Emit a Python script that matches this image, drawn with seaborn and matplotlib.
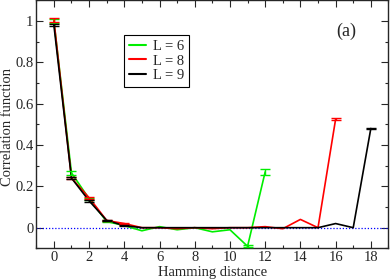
import numpy as np
import pandas as pd
import matplotlib
matplotlib.use('Agg')
import matplotlib.pyplot as plt
import seaborn as sns
from matplotlib.ticker import MultipleLocator

# data (error 0 = no visible bar)
d6 = list(range(0, 13))
c6 = [1.0, 0.265, 0.14, 0.03, 0.01, -0.015, 0.005, -0.01, 0.0, -0.02, -0.01, -0.09, 0.27]
e6 = [0.01, 0.01, 0.006, 0.003, 0.0, 0.0, 0.0, 0.0, 0.0, 0.0, 0.0, 0.004, 0.013]

d8 = list(range(0, 17))
c8 = [1.005, 0.24, 0.145, 0.035, 0.02, 0.0, 0.0, -0.005, 0.0, -0.005, 0.0, 0.0, 0.005, -0.005, 0.04, 0.0, 0.525]
e8 = [0.01, 0.006, 0.005, 0.003, 0.003, 0.0, 0.0, 0.0, 0.0, 0.0, 0.0, 0.0, 0.0, 0.0, 0.0, 0.0, 0.004]

d9 = list(range(0, 19))
c9 = [0.98, 0.24, 0.13, 0.035, 0.01, 0.0, 0.0, 0.0, 0.0, 0.0, 0.0, 0.0, 0.0, 0.0, 0.0, 0.0, 0.02, 0.0, 0.48]
e9 = [0.006, 0.005, 0.005, 0.003, 0.002, 0.0, 0.0, 0.0, 0.0, 0.0, 0.0, 0.0, 0.0, 0.0, 0.0, 0.0, 0.0, 0.0, 0.004]

sns.set_style('ticks')
plt.rcParams['font.family'] = ['Liberation Serif', 'DejaVu Serif']

df = pd.concat([
    pd.DataFrame({'d': d6, 'c': c6, 'e': e6, 'L': 'L = 6'}),
    pd.DataFrame({'d': d8, 'c': c8, 'e': e8, 'L': 'L = 8'}),
    pd.DataFrame({'d': d9, 'c': c9, 'e': e9, 'L': 'L = 9'}),
])
colors = {'L = 6': '#00ee00', 'L = 8': '#ff0000', 'L = 9': '#000000'}

fig = plt.figure(figsize=(3.9, 2.8), dpi=100)
ax = fig.add_axes([0.093, 0.113, 0.903, 0.886])

ax.axhline(0, color='#0000ff', lw=0.9, ls=(0, (1, 1.5)), zorder=1)

sns.lineplot(data=df, x='d', y='c', hue='L', palette=colors, lw=1.2, ax=ax,
             estimator=None, sort=False, zorder=3)
for lab, g in df[df['e'] > 0].groupby('L'):
    ax.errorbar(g['d'], g['c'], yerr=g['e'], fmt='none', ecolor=colors[lab],
                elinewidth=1.0, capsize=3.5, capthick=1.0, zorder=3)

ax.set_xlim(-1, 19)
ax.set_ylim(-0.1, 1.1)
ax.xaxis.set_major_locator(MultipleLocator(2))
ax.xaxis.set_minor_locator(MultipleLocator(1))
ax.yaxis.set_major_locator(MultipleLocator(0.2))
ax.yaxis.set_minor_locator(MultipleLocator(0.1))
ax.set_yticks([0, 0.2, 0.4, 0.6, 0.8, 1.0])
ax.set_yticklabels(['0', '0.2', '0.4', '0.6', '0.8', '1'])
ax.tick_params(which='both', direction='in', top=True, right=True, labelsize=10.5)
ax.tick_params(axis='x', pad=2)
ax.tick_params(axis='y', pad=2)
ax.tick_params(which='major', length=5, width=0.8)
ax.tick_params(which='minor', length=2.5, width=0.8)
for s in ax.spines.values():
    s.set_linewidth(1.0)

ax.set_xlabel('Hamming distance', fontsize=10.5, labelpad=1)
ax.set_ylabel('Correlation function', fontsize=10.5)
ax.yaxis.set_label_coords(-0.062, 0.49)
ax.text(0.91, 0.873, '(a)', transform=ax.transAxes, fontsize=13, ha='right', va='center')

leg = ax.legend(loc='upper left', bbox_to_anchor=(0.25, 0.859), fontsize=10.5,
                frameon=True, fancybox=False, edgecolor='black', framealpha=1,
                handlelength=1.2, handletextpad=0.5, borderpad=0.3, labelspacing=0.1,
                borderaxespad=0)
leg.get_frame().set_linewidth(0.8)
for line in leg.get_lines():
    line.set_linewidth(1.5)

fig.savefig('out.png', dpi=100)
